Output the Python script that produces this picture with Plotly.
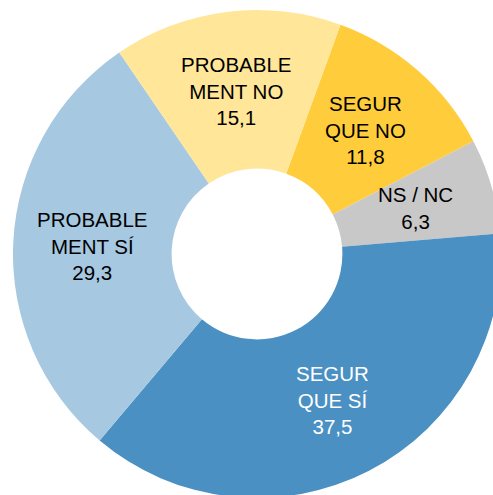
import math
import plotly.graph_objects as go

labels = ["SEGUR<br>QUE NO", "NS / NC", "SEGUR<br>QUE SÍ", "PROBABLE<br>MENT SÍ", "PROBABLE<br>MENT NO"]
values = [11.8, 6.3, 37.5, 29.3, 15.1]
value_text = ["11,8", "6,3", "37,5", "29,3", "15,1"]
colors = ["#FFCD3C", "#C8C8C8", "#4A90C2", "#A6C8E1", "#FFE699"]
text_colors = ["#000000", "#000000", "#FFFFFF", "#000000", "#000000"]

W, H = 520, 520
cx, cy, r = 257, 254, 244
hole = 0.35
rotation = 20

dom_x = [(cx - r) / W, (cx + r) / W]
dom_y = [(H - cy - r) / H, (H - cy + r) / H]

fig = go.Figure(go.Pie(
    labels=labels,
    values=values,
    textinfo="none",
    marker=dict(colors=colors, line=dict(width=0)),
    hole=hole,
    sort=False,
    direction="clockwise",
    rotation=rotation,
    domain=dict(x=dom_x, y=dom_y),
    showlegend=False,
    hoverinfo="label+value",
))

# data labels placed at the mid-radius of the ring along each slice's mid-angle
total = sum(values)
px_cx = (dom_x[0] + dom_x[1]) / 2
px_cy = (dom_y[0] + dom_y[1]) / 2
rx = (dom_x[1] - dom_x[0]) / 2
ry = (dom_y[1] - dom_y[0]) / 2
rmid = (1 + hole) / 2
cum = 0.0
for lab, v, vt, tc in zip(labels, values, value_text, text_colors):
    ang = math.radians(rotation + (cum + v / 2) / total * 360)
    cum += v
    fig.add_annotation(
        x=px_cx + rx * rmid * math.sin(ang),
        y=px_cy + ry * rmid * math.cos(ang),
        xref="paper", yref="paper",
        text=f"{lab}<br>{vt}",
        showarrow=False,
        xanchor="center", yanchor="middle",
        font=dict(family="Liberation Sans, Arial, sans-serif", size=20.5, color=tc),
    )

fig.update_layout(
    width=W, height=H,
    margin=dict(l=0, r=0, t=0, b=0),
    paper_bgcolor="white",
)
fig.write_html(
    "out.html",
    config={"displayModeBar": False},
    post_script=(
        "document.documentElement.style.overflow='hidden';"
        "document.body.style.overflow='hidden';"
        "document.body.style.margin='0';"
    ),
)
